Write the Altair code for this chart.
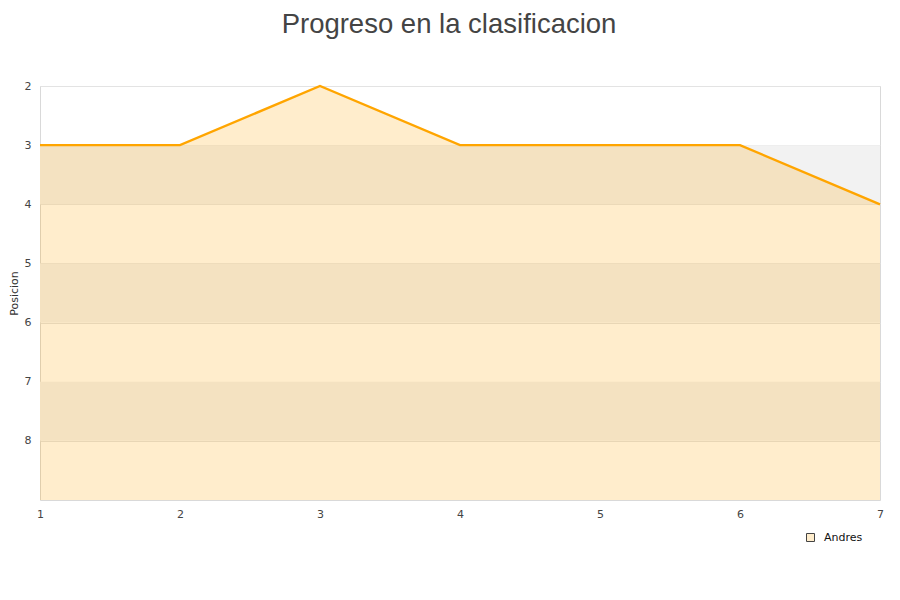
import altair as alt
import pandas as pd

jornadas = [1, 2, 3, 4, 5, 6, 7]
posiciones = [3, 3, 2, 3, 3, 3, 4]
jugador = "Andres"
band_start = [3, 5, 7]
band_end = [4, 6, 8]
y_ticks = [2, 3, 4, 5, 6, 7, 8]

df = pd.DataFrame({"Jornada": jornadas, "Posicion": posiciones, "Jugador": [jugador] * len(jornadas)})
bands = pd.DataFrame({"y1": band_start, "y2": band_end})

W, H = 840, 414
xscale = alt.Scale(domain=[1, 7], nice=False)
yscale = alt.Scale(domain=[2, 9], reverse=True, nice=False, zero=False)

band_layer = alt.Chart(bands).mark_rect(color="#f2f2f2").encode(
    x=alt.value(0), x2=alt.value(W),
    y=alt.Y("y1:Q", scale=yscale,
            axis=alt.Axis(values=y_ticks, title="Posicion", ticks=False, domain=False,
                          grid=True, gridColor="#e3e3e3", labelPadding=9, titlePadding=5,
                          format="d",
                          labelColor="#444", labelFontSize=11, labelFont="DejaVu Sans",
                          titleFont="DejaVu Sans", titleFontSize=11, titleFontWeight="normal",
                          titleColor="#333")),
    y2="y2:Q",
)

area = alt.Chart(df).mark_area(opacity=0.2, color="#FFA500").encode(
    x=alt.X("Jornada:Q", scale=xscale,
            axis=alt.Axis(values=jornadas, title=None, ticks=False, domain=False, grid=False,
                          labelPadding=8, labelColor="#444", labelFontSize=11, labelFlush=False,
                          labelFont="DejaVu Sans", format="d")),
    y=alt.Y("Posicion:Q", scale=yscale),
    y2=alt.datum(9),
)

line = alt.Chart(df).mark_line(color="#FFA500", strokeWidth=2.4).encode(
    x=alt.X("Jornada:Q", scale=xscale),
    y=alt.Y("Posicion:Q", scale=yscale),
)

legend_layer = alt.Chart(df.head(1)).mark_point(
    shape="square", filled=True, stroke="#444", strokeWidth=1, size=0
).encode(
    x=alt.X("Jornada:Q", scale=xscale),
    y=alt.Y("Posicion:Q", scale=yscale),
    fill=alt.Fill("Jugador:N", scale=alt.Scale(range=["#FFEDCC"]),
                  legend=alt.Legend(title=None, orient="none", legendX=765, legendY=446,
                                    symbolType="square", symbolSize=64, symbolOpacity=1,
                                    symbolStrokeColor="#444", symbolStrokeWidth=1,
                                    labelOffset=8,
                                    labelFont="DejaVu Sans", labelFontSize=11,
                                    labelColor="#111")),
)

chart = alt.layer(band_layer, area, line, legend_layer).properties(
    width=W, height=H,
    title=alt.TitleParams("Progreso en la clasificacion", font="Liberation Sans", fontSize=27.5,
                          fontWeight="normal", color="#444", anchor="middle", offset=42, dx=-11),
    autosize=alt.AutoSizeParams(type="none"),
    padding={"left": 32, "top": 78, "right": 12, "bottom": 80},
).configure_view(stroke="#d9d9d9", strokeWidth=1)

chart.save("out.html", embed_options={"renderer": "svg", "actions": False})
